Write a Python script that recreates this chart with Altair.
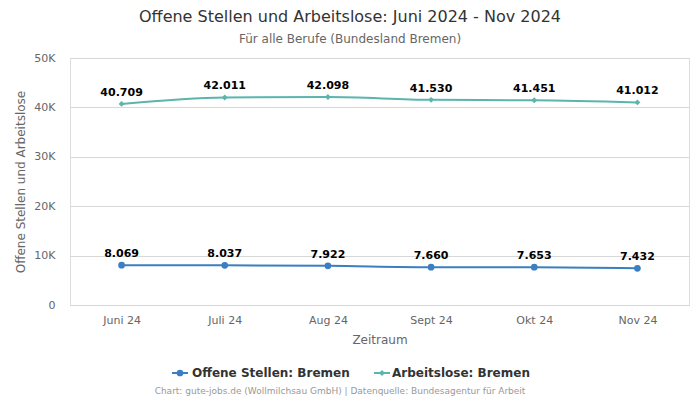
import altair as alt
import pandas as pd

months = ["Juni 24", "Juli 24", "Aug 24", "Sept 24", "Okt 24", "Nov 24"]
offene = [8069, 8037, 7922, 7660, 7653, 7432]
arbeitslose = [40709, 42011, 42098, 41530, 41451, 41012]
series_names = ["Offene Stellen: Bremen", "Arbeitslose: Bremen"]
colors = ["#3a7fc2", "#5ab5ae"]
shapes = ["circle", "diamond"]

rows = []
for m, v in zip(months, offene):
    rows.append({"Monat": m, "Wert": v, "Serie": series_names[0]})
for m, v in zip(months, arbeitslose):
    rows.append({"Monat": m, "Wert": v, "Serie": series_names[1]})
df = pd.DataFrame(rows)

FONT = "DejaVu Sans"
W, H = 619, 247

x_enc = alt.X("Monat:N", sort=months, title="Zeitraum",
              axis=alt.Axis(labelAngle=0, domainColor="#ccd6eb", ticks=False, grid=False,
                            labelColor="#666666", labelFontSize=11, labelPadding=9,
                            titleColor="#666666", titleFontSize=12, titleFontWeight="normal",
                            titlePadding=9, labelFont=FONT, titleFont=FONT))
y_enc = alt.Y("Wert:Q", title="Offene Stellen und Arbeitslose",
              scale=alt.Scale(domain=[0, 50000]),
              axis=alt.Axis(values=[0, 10000, 20000, 30000, 40000, 50000],
                            labelExpr="datum.value == 0 ? '0' : (datum.value / 1000) + 'K'",
                            domain=False, ticks=False, gridColor="#d8d8d8",
                            labelColor="#666666", labelFontSize=11, labelPadding=15,
                            titleColor="#666666", titleFontSize=12, titleFontWeight="normal",
                            titlePadding=6, labelFont=FONT, titleFont=FONT))
color_enc = alt.Color("Serie:N", scale=alt.Scale(domain=series_names, range=colors), legend=None)
shape_enc = alt.Shape("Serie:N", scale=alt.Scale(domain=series_names, range=shapes), legend=None)

base = alt.Chart(df)
lines = base.mark_line(interpolate="monotone", strokeWidth=2).encode(x=x_enc, y=y_enc, color=color_enc)
points = base.mark_point(filled=True, opacity=1).encode(
    x=x_enc, y=y_enc, color=color_enc, shape=shape_enc,
    size=alt.condition("datum.Serie == 'Offene Stellen: Bremen'", alt.value(45), alt.value(35)))
labels = base.transform_calculate(
    lab="replace(format(datum.Wert, ','), ',', '.')"
).mark_text(dy=-11, fontWeight="bold", fontSize=11, font=FONT, color="#000000").encode(
    x=x_enc, y=y_enc, text="lab:N")

ann = pd.DataFrame({"a": [1]})
ab = alt.Chart(ann)
title = ab.mark_text(fontSize=16, font=FONT, color="#333333", align="center", baseline="middle").encode(
    x=alt.value(280), y=alt.value(-41), text=alt.value("Offene Stellen und Arbeitslose: Juni 2024 - Nov 2024"))
subtitle = ab.mark_text(fontSize=12, font=FONT, color="#666666", align="center", baseline="middle").encode(
    x=alt.value(280), y=alt.value(-19), text=alt.value("Für alle Berufe (Bundesland Bremen)"))
credit = ab.mark_text(fontSize=9, font=FONT, color="#999999", align="center", baseline="middle").encode(
    x=alt.value(270), y=alt.value(333), text=alt.value("Chart: gute-jobs.de (Wollmilchsau GmbH) | Datenquelle: Bundesagentur für Arbeit"))

leg_y = 315
leg1_line = ab.mark_rule(color=colors[0], strokeWidth=2).encode(x=alt.value(102), x2=alt.value(118), y=alt.value(leg_y))
leg1_pt = ab.mark_point(filled=True, opacity=1, color=colors[0], shape="circle", size=45).encode(x=alt.value(110), y=alt.value(leg_y))
leg1_txt = ab.mark_text(fontSize=12, fontWeight="bold", font=FONT, color="#333333", align="left", baseline="middle").encode(
    x=alt.value(122), y=alt.value(leg_y), text=alt.value(series_names[0]))
leg2_line = ab.mark_rule(color=colors[1], strokeWidth=2).encode(x=alt.value(304), x2=alt.value(320), y=alt.value(leg_y))
leg2_pt = ab.mark_point(filled=True, opacity=1, color=colors[1], shape="diamond", size=35).encode(x=alt.value(312), y=alt.value(leg_y))
leg2_txt = ab.mark_text(fontSize=12, fontWeight="bold", font=FONT, color="#333333", align="left", baseline="middle").encode(
    x=alt.value(322), y=alt.value(leg_y), text=alt.value(series_names[1]))

chart = alt.layer(lines, points, labels, title, subtitle, credit,
                  leg1_line, leg1_pt, leg1_txt, leg2_line, leg2_pt, leg2_txt).properties(
    width=W, height=H,
    autosize=alt.AutoSizeParams(type="none"),
    padding={"left": 62, "top": 50, "right": 3, "bottom": 94},
).configure_view(strokeWidth=0, stroke="transparent"
).configure_axisX(grid=False
).configure(font=FONT)

chart.save("out.html", embed_options={"renderer": "svg", "actions": False})
